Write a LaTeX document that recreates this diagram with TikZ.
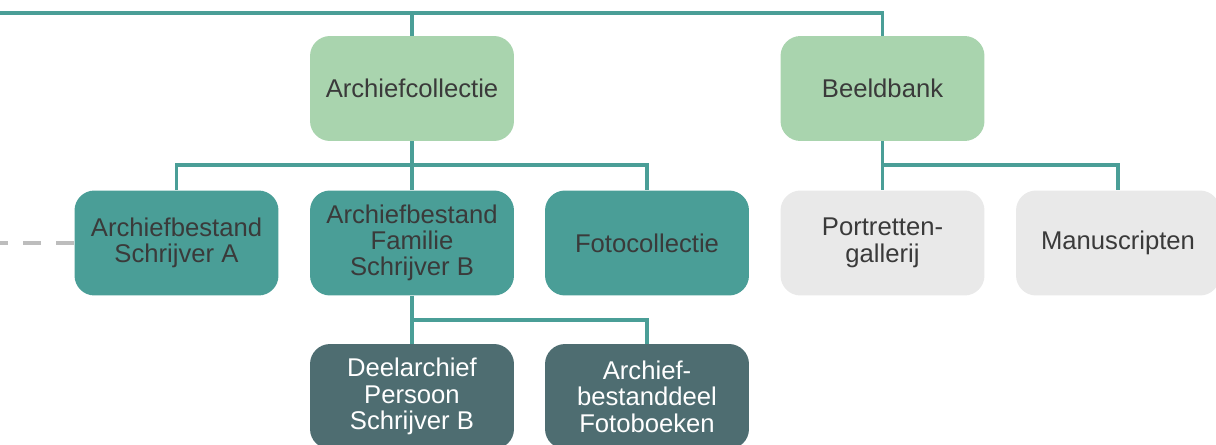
\documentclass[tikz,border=0pt]{standalone}
\usepackage{fontspec}
\setmainfont{Liberation Sans}
\usepackage{xcolor}
\usepackage{tikz}
\usetikzlibrary{positioning}
\definecolor{lichtgroen}{HTML}{A9D4AE}
\definecolor{tealgroen}{HTML}{4A9E97}
\definecolor{leisteen}{HTML}{4E6D71}
\definecolor{lichtgrijs}{HTML}{E9E9E9}
\definecolor{tekstgrijs}{HTML}{3A3A3A}
\definecolor{stipgrijs}{HTML}{BDBDBD}

\begin{document}
\begin{tikzpicture}[
  x=0.02cm, y=-0.02cm,
  blok/.style={
    rounded corners=0.4cm, minimum width=4.08cm, minimum height=2.1cm,
    align=center, inner sep=2pt, text=tekstgrijs,
    font=\fontsize{14.6}{15}\selectfont
  },
  collectie/.style={blok, fill=lichtgroen},
  bestand/.style={blok, fill=tealgroen},
  deel/.style={blok, fill=leisteen, text=white},
  overig/.style={blok, fill=lichtgrijs},
  lijn/.style={draw=tealgroen, line width=2.2pt},
  stippel/.style={draw=stipgrijs, line width=2.8pt, dash pattern=on 0.36cm off 0.3cm}
]
\clip (0,0) rectangle (1216,444);

% Collecties
\node[collectie] (archief) at (412, 88.5) {Archiefcollectie};
\node[collectie] (beeld)   at (882.5, 88.5) {Beeldbank};

% Archiefbestanden
\node[bestand] (bestA)   at (176.5, 243) {Archiefbestand\\Schrijver A};
\node[bestand] (familie) at (412, 243) {Archiefbestand\\Familie\\Schrijver B};
\node[bestand] (foto)    at (647, 243) {Fotocollectie};

% Beeldbank
\node[overig] (portret) at (882.5, 243) {Portretten-\\gallerij};
\node[overig] (manus)   at (1118, 243) {Manuscripten};

% Deelarchieven
\node[deel] (persoon)    at (412, 396.5) {Deelarchief\\Persoon\\Schrijver B};
\node[deel] (fotoboeken) at (647, 396.5) {Archief-\\bestanddeel\\Fotoboeken};

% Verbindingen
\coordinate (links) at (0, 13);
\coordinate (stip)  at (0, 243);
\draw[lijn] (links) -| (beeld.north);
\draw[lijn] (archief.north) -- (archief.north |- links);
\foreach \kind in {bestA, familie, foto}
  \draw[lijn] (archief.south) -- ++(0,24) -| (\kind.north);
\foreach \kind in {portret, manus}
  \draw[lijn] (beeld.south) -- ++(0,24) -| (\kind.north);
\foreach \kind in {persoon, fotoboeken}
  \draw[lijn] (familie.south) -- ++(0,24) -| (\kind.north);
\draw[stippel] (bestA.west) -- (stip);
\end{tikzpicture}
\end{document}
